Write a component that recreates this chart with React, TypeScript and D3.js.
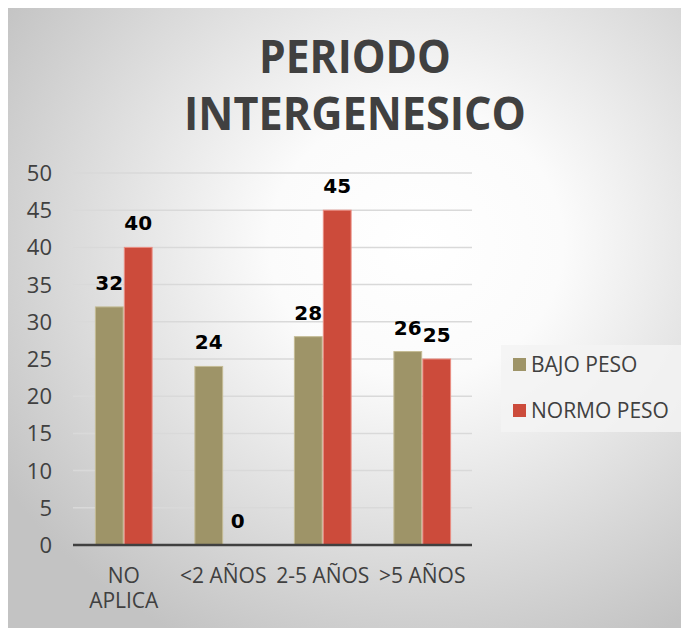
import React from "react";
import * as d3 from "d3";

// values
const categories = ["NO APLICA", "<2 AÑOS", "2-5 AÑOS", ">5 AÑOS"];
const categoryLines = [["NO", "APLICA"], ["<2 AÑOS"], ["2-5 AÑOS"], [">5 AÑOS"]];
const seriesNames = ["BAJO PESO", "NORMO PESO"];
const bajoPeso = [32, 24, 28, 26];
const normoPeso = [40, 0, 45, 25];
const yTicks = [0, 5, 10, 15, 20, 25, 30, 35, 40, 45, 50];
const titleLines = ["PERIODO", "INTERGENESICO"];

const fills = ["#9e9468", "#cc4b3b"];
const strokes = ["#c4bb94", "#ea8d82"];

const W = 681;
const H = 620;

const App = () => {
    const series = [bajoPeso, normoPeso];

    // page coordinates; the svg sits at the 8px body margin
    const x = d3.scaleBand<string>()
        .domain(categories)
        .range([74, 472])
        .paddingInner(0.43)
        .paddingOuter(0.215);

    const xs = d3.scaleBand<string>()
        .domain(seriesNames)
        .range([0, x.bandwidth()])
        .paddingInner(0.04);

    const y = d3.scaleLinear()
        .domain([0, 50])
        .range([545, 173]);

    const textFont = "'Open Sans', sans-serif";

    return (
        <svg width={W} height={H} style={{ display: "block" }}>
            <defs>
                <radialGradient id="bg" cx="0.6" cy="0.38" r="0.72">
                    <stop offset="0" stopColor="#ffffff" />
                    <stop offset="0.3" stopColor="#fbfbfb" />
                    <stop offset="1" stopColor="#c3c3c3" />
                </radialGradient>
            </defs>
            <rect x={0} y={0} width={W} height={H} fill="url(#bg)" />
            <g transform="translate(-8,-8)">
                {titleLines.map((t, i) => (
                    <text key={t} x={355} y={73 + i * 57} textAnchor="middle"
                        fontFamily={textFont} fontWeight="bold" fontSize={47}
                        fill="#404040"
                        textLength={i === 0 ? 192 : 342} lengthAdjust="spacingAndGlyphs">
                        {t}
                    </text>
                ))}

                {yTicks.map((t) => (
                    <g key={t}>
                        {t > 0 && (
                            <line x1={73} x2={472} y1={y(t)} y2={y(t)}
                                stroke="#d9d9d9" strokeWidth={1.5} />
                        )}
                        <text x={52} y={y(t)} dy="0.36em" textAnchor="end"
                            fontFamily={textFont} fontSize={22} fill="#404040">
                            {t}
                        </text>
                    </g>
                ))}

                {categories.map((c, ci) => (
                    <g key={c} transform={`translate(${x(c)},0)`}>
                        {seriesNames.map((s, si) => {
                            const v = series[si][ci];
                            const bx = xs(s) as number;
                            return (
                                <g key={s}>
                                    {v > 0 && (
                                        <rect x={bx} y={y(v)} width={xs.bandwidth()}
                                            height={y(0) - y(v)}
                                            fill={fills[si]} stroke={strokes[si]} strokeWidth={1} />
                                    )}
                                    <text x={bx + xs.bandwidth() / 2} y={y(v) - 17}
                                        textAnchor="middle" fontFamily="'DejaVu Sans', sans-serif"
                                        fontWeight="bold" fontSize={20} fill="#000">
                                        {v}
                                    </text>
                                </g>
                            );
                        })}
                        {categoryLines[ci].map((l, li) => (
                            <text key={l} x={x.bandwidth() / 2} y={583 + li * 25}
                                textAnchor="middle" fontFamily={textFont} fontSize={21}
                                fill="#404040">
                                {l}
                            </text>
                        ))}
                    </g>
                ))}

                <line x1={73} x2={472} y1={y(0)} y2={y(0)} stroke="#404040" strokeWidth={2.5} />

                <rect x={501} y={345} width={181} height={87} fill="#f3f3f3" opacity={0.85} />
                {seriesNames.map((s, si) => (
                    <g key={s} transform={`translate(513,${358 + si * 46})`}>
                        <rect x={0} y={0} width={13} height={13} fill={fills[si]} />
                        <text x={18} y={14} fontFamily={textFont} fontSize={21} fill="#404040">
                            {s}
                        </text>
                    </g>
                ))}
            </g>
        </svg>
    );
};

export default App;
